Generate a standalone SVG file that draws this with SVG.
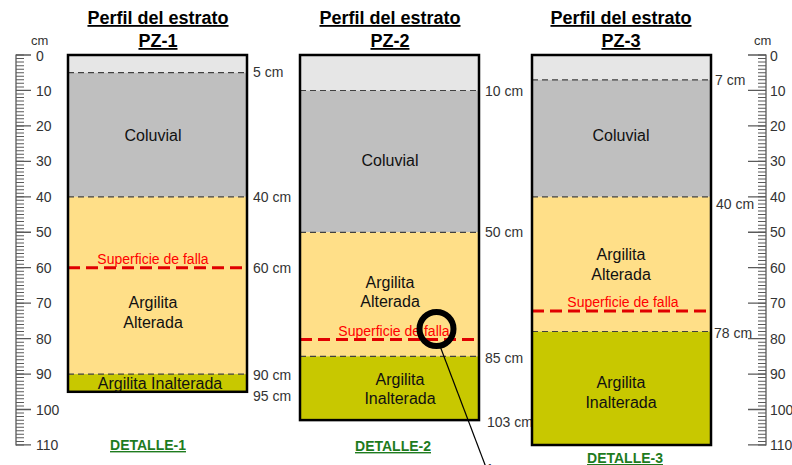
<svg xmlns="http://www.w3.org/2000/svg" width="792" height="465" viewBox="0 0 792 465">
<style>
text{font-family:"Liberation Sans",Arial,sans-serif}
.title{font-size:18px;font-weight:bold;text-anchor:middle;text-decoration:underline;fill:#000}
.lbl{font-size:16px;text-anchor:middle;fill:#111}
.red{font-size:14px;text-anchor:middle;fill:#ff0000}
.dep{font-size:14px;fill:#333}
.num{font-size:14px;fill:#333}
.cm{font-size:13px;fill:#333}
.det{font-size:14px;font-weight:bold;text-anchor:middle;text-decoration:underline;fill:#1e7b1e}
.l0{fill:#e6e6e6}
.l1{fill:#bfbfbf}
.l2{fill:#ffdf88}
.l3{fill:#c8c800}
.sep{stroke:#404040;stroke-width:1.2;stroke-dasharray:6 4;fill:none}
.fault{stroke:#e00000;stroke-width:3;stroke-dasharray:12 6;fill:none}
.border{fill:none;stroke:#000;stroke-width:2.5}
.axis{stroke:#5a5a5a;stroke-width:1.3;fill:none}
.minor{stroke:#5a5a5a;stroke-dasharray:1 2.545;fill:none}
.major{stroke:#5a5a5a;stroke-dasharray:1.3 34.15;fill:none}
</style>

<g id="ruler-left">
<line class="axis" x1="16" y1="54.5" x2="16" y2="445.5"/>
<line class="minor" x1="20" y1="54.5" x2="20" y2="446" stroke-width="8"/>
<line class="major" x1="23.5" y1="54.35" x2="23.5" y2="446" stroke-width="15"/>
<text class="cm" x="31" y="45">cm</text>
<text class="num" x="36" y="61">0</text>
<text class="num" x="36" y="95.5">10</text>
<text class="num" x="36" y="131">20</text>
<text class="num" x="36" y="166.4">30</text>
<text class="num" x="36" y="201.8">40</text>
<text class="num" x="36" y="237.3">50</text>
<text class="num" x="36" y="272.7">60</text>
<text class="num" x="36" y="308.2">70</text>
<text class="num" x="36" y="343.6">80</text>
<text class="num" x="36" y="379.1">90</text>
<text class="num" x="36" y="414.5">100</text>
<text class="num" x="36" y="450">110</text>
</g>

<g id="ruler-right">
<line class="axis" x1="766" y1="54.5" x2="766" y2="445.5"/>
<line class="minor" x1="762" y1="54.5" x2="762" y2="446" stroke-width="8"/>
<line class="major" x1="757" y1="54.35" x2="757" y2="446" stroke-width="18"/>
<text class="cm" x="754" y="45">cm</text>
<text class="num" x="770" y="61">0</text>
<text class="num" x="770" y="95.5">10</text>
<text class="num" x="770" y="131">20</text>
<text class="num" x="770" y="166.4">30</text>
<text class="num" x="770" y="201.8">40</text>
<text class="num" x="770" y="237.3">50</text>
<text class="num" x="770" y="272.7">60</text>
<text class="num" x="770" y="308.2">70</text>
<text class="num" x="770" y="343.6">80</text>
<text class="num" x="770" y="379.1">90</text>
<text class="num" x="770" y="414.5">100</text>
<text class="num" x="770" y="450">110</text>
</g>

<g id="PZ-1">
<text class="title" x="158" y="24">Perfil del estrato</text>
<text class="title" x="158" y="47">PZ-1</text>
<rect class="l0" x="68" y="55" width="179" height="17.7"/>
<rect class="l1" x="68" y="72.7" width="179" height="124.1"/>
<rect class="l2" x="68" y="196.8" width="179" height="177.3"/>
<rect class="l3" x="68" y="374.1" width="179" height="17.7"/>
<line class="sep" x1="68" y1="72.7" x2="247" y2="72.7"/>
<line class="sep" x1="68" y1="196.8" x2="247" y2="196.8"/>
<line class="sep" x1="68" y1="374.1" x2="247" y2="374.1"/>
<line class="fault" x1="68" y1="267.7" x2="247" y2="267.7"/>
<rect class="border" x="68" y="55" width="179" height="336.8"/>
<text class="lbl" x="153" y="141">Coluvial</text>
<text class="red" x="153" y="264">Superficie de falla</text>
<text class="lbl" x="153" y="308">Argilita</text>
<text class="lbl" x="153" y="328">Alterada</text>
<text class="lbl" x="160" y="389">Argilita Inalterada</text>
<text class="dep" x="253" y="77">5 cm</text>
<text class="dep" x="253" y="202">40 cm</text>
<text class="dep" x="253" y="273">60 cm</text>
<text class="dep" x="253" y="380">90 cm</text>
<text class="dep" x="253" y="401">95 cm</text>
<text class="det" x="148" y="450">DETALLE-1</text>
</g>

<g id="PZ-2">
<text class="title" x="390" y="24">Perfil del estrato</text>
<text class="title" x="390" y="47">PZ-2</text>
<rect class="l0" x="300" y="55" width="179" height="35.5"/>
<rect class="l1" x="300" y="90.5" width="179" height="141.8"/>
<rect class="l2" x="300" y="232.3" width="179" height="124"/>
<rect class="l3" x="300" y="356.3" width="179" height="63.8"/>
<line class="sep" x1="300" y1="90.5" x2="479" y2="90.5"/>
<line class="sep" x1="300" y1="232.3" x2="479" y2="232.3"/>
<line class="sep" x1="300" y1="356.3" x2="479" y2="356.3"/>
<line class="fault" x1="300" y1="339.6" x2="479" y2="339.6"/>
<rect class="border" x="300" y="55" width="179" height="365.1"/>
<text class="lbl" x="390" y="166">Coluvial</text>
<text class="lbl" x="390" y="288">Argilita</text>
<text class="lbl" x="390" y="307">Alterada</text>
<text class="red" x="394" y="336">Superficie de falla</text>
<text class="lbl" x="400" y="385">Argilita</text>
<text class="lbl" x="400" y="404">Inalterada</text>
<text class="dep" x="485" y="96">10 cm</text>
<text class="dep" x="485" y="237">50 cm</text>
<text class="dep" x="485" y="363">85 cm</text>
<text class="dep" x="487" y="427">103 cm</text>
<text class="det" x="393" y="451">DETALLE-2</text>
</g>

<g id="PZ-3">
<text class="title" x="621" y="24">Perfil del estrato</text>
<text class="title" x="621" y="47">PZ-3</text>
<rect class="l0" x="532" y="55" width="179" height="24.8"/>
<rect class="l1" x="532" y="79.8" width="179" height="117"/>
<rect class="l2" x="532" y="196.8" width="179" height="134.7"/>
<rect class="l3" x="532" y="331.5" width="179" height="113.5"/>
<line class="sep" x1="532" y1="79.8" x2="711" y2="79.8"/>
<line class="sep" x1="532" y1="196.8" x2="711" y2="196.8"/>
<line class="sep" x1="532" y1="331.5" x2="711" y2="331.5"/>
<line class="fault" x1="532" y1="311" x2="711" y2="311"/>
<rect class="border" x="532" y="55" width="179" height="390"/>
<text class="lbl" x="621" y="141">Coluvial</text>
<text class="lbl" x="621" y="260">Argilita</text>
<text class="lbl" x="621" y="280">Alterada</text>
<text class="red" x="623" y="307">Superficie de falla</text>
<text class="lbl" x="621" y="388">Argilita</text>
<text class="lbl" x="621" y="408">Inalterada</text>
<text class="dep" x="715" y="85">7 cm</text>
<text class="dep" x="716" y="209">40 cm</text>
<text class="dep" x="714" y="338">78 cm</text>
<text class="det" x="625" y="463">DETALLE-3</text>
</g>

<g id="detail-callout">
<circle cx="436.5" cy="329" r="17" fill="none" stroke="#000" stroke-width="6"/>
<line x1="440" y1="346" x2="487" y2="470" stroke="#000" stroke-width="1.2"/>
<text class="dep" x="486" y="474" fill="#000">1</text>
</g>
</svg>
